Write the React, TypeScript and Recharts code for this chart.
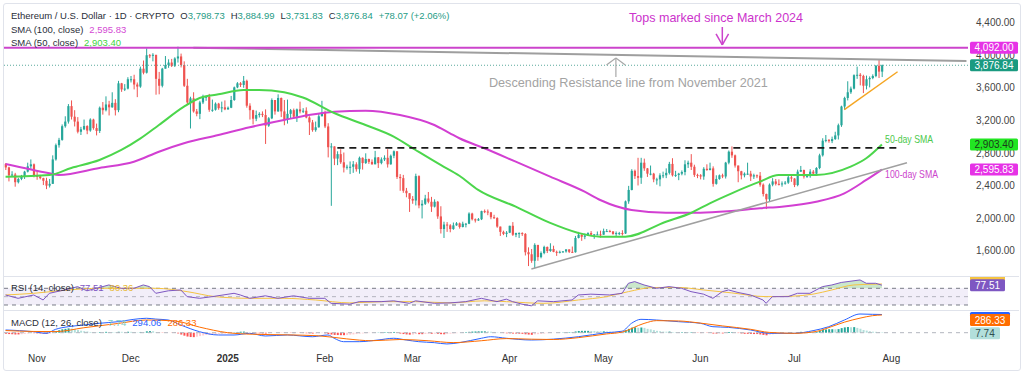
import React from "react";
import {
  ComposedChart,
  Bar,
  Line,
  Area,
  XAxis,
  YAxis,
  ReferenceLine,
  ReferenceDot,
  ReferenceArea,
  Cell,
} from "recharts";

const FONT = "'Liberation Sans', Arial, Helvetica, sans-serif";

// ---------- DATA (day index 0 = 22 Oct 2024, last candle = 29 Jul 2025 = index 280) ----------
const FIRST_OPEN = 2665;
// [close, high, low] per day; open = previous close
const OCT24 = [
  [2622, 2675, 2590], [2525, 2630, 2450], [2535, 2575, 2505], [2440, 2555, 2385], [2480, 2495, 2425],
  [2505, 2530, 2465], [2570, 2580, 2480], [2635, 2680, 2560], [2660, 2720, 2605], [2518, 2670, 2500],
];
const NOV24 = [
  [2512, 2585, 2470], [2490, 2530, 2475], [2458, 2495, 2405], [2398, 2495, 2355], [2420, 2480, 2375],
  [2720, 2770, 2420], [2895, 2915, 2705], [2960, 2985, 2865], [3128, 3150, 2950], [3185, 3250, 3110],
  [3375, 3400, 3160], [3245, 3445, 3210], [3185, 3325, 3125], [3060, 3240, 3040], [3090, 3120, 3020],
  [3130, 3210, 3080], [3075, 3140, 3030], [3210, 3225, 3060], [3105, 3220, 3085], [3070, 3160, 3015],
  [3355, 3370, 3045], [3325, 3425, 3270], [3395, 3495, 3310], [3360, 3440, 3260], [3415, 3545, 3355],
  [3325, 3460, 3260], [3655, 3685, 3300], [3580, 3660, 3550], [3590, 3645, 3560], [3705, 3730, 3580],
];
const DEC24 = [
  [3705, 3745, 3665], [3640, 3760, 3580], [3615, 3665, 3485], [3835, 3860, 3600], [3785, 3935, 3765],
  [4000, 4085, 3775], [3995, 4015, 3965], [4005, 4025, 3925], [3710, 4005, 3515], [3625, 3795, 3520],
  [3835, 3845, 3605], [3880, 3990, 3860], [3910, 3950, 3845], [3870, 3955, 3855], [3960, 3975, 3855],
  [3985, 4105, 3910], [3880, 4020, 3850], [3625, 3925, 3610], [3420, 3710, 3390], [3470, 3490, 3100],
  [3310, 3545, 3295], [3280, 3340, 3250], [3420, 3440, 3215], [3490, 3515, 3400], [3490, 3500, 3440],
  [3330, 3525, 3305], [3330, 3455, 3305], [3405, 3420, 3320], [3350, 3415, 3330], [3360, 3430, 3300],
  [3335, 3445, 3325],
];
const JAN25 = [
  [3355, 3370, 3330], [3450, 3500, 3350], [3605, 3615, 3440], [3655, 3670, 3595], [3635, 3670, 3610],
  [3685, 3745, 3600], [3380, 3700, 3355], [3325, 3410, 3210], [3220, 3330, 3150], [3265, 3320, 3190],
  [3280, 3300, 3235], [3265, 3310, 3240], [3135, 3335, 2910], [3225, 3240, 3120], [3450, 3470, 3215],
  [3310, 3445, 3270], [3475, 3520, 3305], [3310, 3480, 3240], [3215, 3450, 3140], [3280, 3455, 3160],
  [3325, 3340, 3225], [3245, 3345, 3230], [3335, 3345, 3180], [3310, 3430, 3285], [3318, 3350, 3290],
  [3235, 3360, 3225], [3175, 3250, 3020], [3080, 3205, 3060], [3115, 3185, 3060], [3250, 3290, 3110],
  [3300, 3440, 3270],
];
const FEB25 = [
  [3125, 3320, 3105], [2870, 3165, 2745], [2880, 2920, 2150], [2730, 2865, 2650], [2785, 2820, 2650],
  [2685, 2845, 2665], [2620, 2805, 2560], [2630, 2655, 2595], [2630, 2695, 2540], [2660, 2700, 2555],
  [2600, 2685, 2570], [2740, 2755, 2545], [2675, 2745, 2595], [2725, 2795, 2665], [2690, 2730, 2665],
  [2660, 2720, 2655], [2745, 2825, 2670], [2675, 2750, 2615], [2720, 2745, 2660], [2740, 2770, 2700],
  [2660, 2845, 2620], [2765, 2780, 2655], [2820, 2830, 2735], [2505, 2820, 2480], [2490, 2540, 2335],
  [2335, 2530, 2310], [2305, 2370, 2255], [2235, 2305, 2075],
];
const MAR25 = [
  [2215, 2270, 2175], [2515, 2545, 2155], [2155, 2525, 2120], [2175, 2220, 1995], [2240, 2285, 2160],
  [2200, 2320, 2180], [2140, 2260, 2075], [2200, 2230, 2130], [2020, 2210, 1990], [1865, 2145, 1810],
  [1920, 1955, 1755], [1910, 1950, 1830], [1865, 1925, 1825], [1910, 1945, 1855], [1935, 1950, 1905],
  [1890, 1945, 1870], [1930, 1955, 1885], [1930, 1940, 1885], [2055, 2070, 1925], [1985, 2065, 1970],
  [1970, 1995, 1945], [1985, 2000, 1965], [2085, 2090, 1975], [2080, 2105, 2060], [2070, 2105, 2035],
  [2010, 2075, 1985], [2000, 2040, 1990], [1895, 2010, 1880], [1830, 1895, 1780], [1805, 1845, 1790],
  [1820, 1840, 1765],
];
const APR25 = [
  [1905, 1905, 1815], [1795, 1950, 1780], [1815, 1820, 1765], [1815, 1825, 1755], [1805, 1825, 1780],
  [1580, 1815, 1540], [1555, 1640, 1410], [1475, 1620, 1450], [1670, 1690, 1385], [1520, 1670, 1475],
  [1570, 1590, 1505], [1645, 1660, 1555], [1595, 1650, 1570], [1620, 1690, 1585], [1585, 1660, 1580],
  [1575, 1600, 1535], [1585, 1600, 1565], [1590, 1595, 1575], [1615, 1615, 1575], [1585, 1615, 1570],
  [1580, 1650, 1570], [1755, 1780, 1575], [1795, 1830, 1750], [1770, 1800, 1720], [1785, 1810, 1740],
  [1815, 1825, 1780], [1795, 1840, 1785], [1800, 1800, 1745], [1800, 1835, 1790], [1795, 1845, 1760],
];
const MAY25 = [
  [1840, 1870, 1795], [1840, 1865, 1830], [1835, 1855, 1825], [1805, 1840, 1795], [1815, 1835, 1780],
  [1815, 1830, 1790], [1810, 1850, 1785], [2205, 2215, 1805], [2345, 2395, 2175], [2580, 2600, 2340],
  [2515, 2595, 2480], [2495, 2740, 2400], [2680, 2740, 2420], [2610, 2730, 2580], [2545, 2615, 2505],
  [2545, 2645, 2525], [2475, 2555, 2440], [2475, 2495, 2410], [2525, 2550, 2390], [2525, 2570, 2490],
  [2555, 2610, 2490], [2665, 2690, 2535], [2525, 2735, 2510], [2530, 2580, 2505], [2545, 2555, 2465],
  [2565, 2585, 2525], [2660, 2710, 2525], [2680, 2705, 2615], [2630, 2785, 2590], [2530, 2655, 2505],
  [2525, 2545, 2490],
];
const JUN25 = [
  [2510, 2540, 2475], [2605, 2625, 2470], [2590, 2660, 2580], [2610, 2680, 2585], [2420, 2635, 2385],
  [2480, 2525, 2410], [2525, 2535, 2470], [2510, 2545, 2490], [2680, 2690, 2485], [2815, 2830, 2660],
  [2770, 2880, 2740], [2645, 2780, 2620], [2575, 2645, 2440], [2525, 2580, 2475], [2545, 2560, 2500],
  [2545, 2680, 2530], [2510, 2580, 2455], [2525, 2545, 2480], [2520, 2535, 2490], [2410, 2565, 2385],
  [2295, 2425, 2265], [2230, 2300, 2110], [2410, 2425, 2200], [2450, 2490, 2390], [2420, 2480, 2400],
  [2415, 2475, 2400], [2425, 2450, 2385], [2435, 2455, 2410], [2500, 2520, 2420], [2485, 2525, 2445],
];
const JUL25 = [
  [2405, 2490, 2380], [2570, 2595, 2390], [2590, 2640, 2565], [2510, 2595, 2485], [2515, 2530, 2495],
  [2570, 2600, 2495], [2545, 2590, 2520], [2615, 2625, 2530], [2770, 2790, 2600], [2950, 2980, 2755],
  [2960, 3020, 2930], [2945, 2970, 2925], [2970, 3000, 2920], [3015, 3060, 2960], [3140, 3160, 2965],
  [3370, 3380, 3120], [3475, 3490, 3330], [3545, 3680, 3445], [3590, 3615, 3525], [3755, 3765, 3580],
  [3760, 3860, 3710], [3745, 3780, 3630], [3625, 3760, 3535], [3705, 3750, 3580], [3720, 3740, 3605],
  [3745, 3765, 3705], [3870, 3880, 3730], [3798.73, 3940, 3720], [3876.84, 3884.99, 3731.83],
];

// MACD histogram, one value per candle
const H_OCT = [-18, -22, -25, -28, -28, -25, -20, -12, -5, -8];
const H_NOV = [-10, -12, -15, -18, -16, 5, 25, 40, 55, 62, 70, 68, 58, 45, 32, 25, 20, 12, 8, 6, 10, 8, 14, 12, 10, 8, 15, 14, 12, 16];
const H_DEC = [14, 10, 5, 12, 10, 22, 26, 24, 8, -2, -4, -2, -1, -3, -5, -12, -30, -48, -62, -70, -72, -65, -55, -45, -38, -34, -30, -25, -22, -18, -15];
const H_JAN = [-12, -6, 5, 12, 16, 18, 10, 2, -4, -8, -10, -12, -14, -8, -4, -3, 2, -2, -5, -4, -4, -6, -4, -5, -6, -9, -12, -14, -12, -8, -6];
const H_FEB = [-10, -22, -30, -36, -38, -40, -40, -38, -32, -28, -22, -15, -12, -8, -6, -4, 2, 4, 6, 8, 8, 10, 12, -4, -14, -22, -28, -32];
const H_MAR = [-30, -20, -24, -24, -20, -18, -18, -16, -18, -24, -26, -22, -16, -12, -8, -2, 4, 8, 14, 18, 20, 22, 22, 22, 20, 16, 12, 6, 0, -6, -10];
const H_APR = [-10, -14, -14, -16, -18, -26, -30, -34, -26, -24, -20, -14, -8, -4, -2, 0, 2, 4, 6, 8, 8, 20, 28, 30, 30, 30, 28, 26, 24, 22];
const H_MAY = [22, 20, 18, 14, 12, 10, 8, 40, 62, 82, 86, 80, 84, 78, 62, 54, 42, 30, 24, 18, 16, 18, 10, 8, 6, 8, 10, 8, 8, 2, -4];
const H_JUN = [-6, -4, -4, -4, -14, -14, -12, -12, 0, 10, 10, 4, -6, -12, -18, -18, -20, -22, -22, -28, -36, -42, -32, -26, -18, -12, -8, -4, 2, 4];
const H_JUL = [2, 10, 14, 12, 10, 10, 8, 12, 28, 44, 52, 56, 56, 54, 58, 74, 86, 92, 88, 90, 78, 64, 44, 34, 24, 16, 14, 10, 7.74];

// Indicator readings [day index, value]
const SMA50_PTS = [
  [0, 2508], [14, 2529], [21, 2615], [30, 2713], [37, 2836], [43, 2975], [49, 3143], [57, 3368], [62, 3475],
  [68, 3520], [76, 3573], [81, 3573], [89, 3545], [95, 3480], [105, 3290], [115, 3143], [124, 3000],
  [131, 2836], [139, 2652], [145, 2520], [151, 2345], [163, 2140], [174, 1940], [183, 1817], [190, 1771],
  [198, 1771], [211, 1955], [219, 2062], [225, 2181], [232, 2304], [241, 2447], [247, 2529], [259, 2529],
  [270, 2631], [275, 2734], [280, 2903.4],
];
const SMA100_PTS = [
  [0, 2664], [14, 2550], [17, 2529], [30, 2615], [41, 2692], [49, 2815], [57, 2918], [68, 3020], [78, 3115],
  [89, 3205], [97, 3266], [105, 3307], [115, 3319], [126, 3266], [137, 3143], [142, 3041], [145, 2980],
  [153, 2857], [163, 2692], [174, 2508], [185, 2324], [190, 2222], [200, 2099], [211, 2066], [222, 2066],
  [232, 2087], [241, 2120], [248, 2140], [259, 2201], [268, 2304], [275, 2468], [280, 2595.83],
];
const RSI_PTS = [
  [0, 54], [4, 46], [9, 54], [12, 42], [14, 58], [20, 68], [23, 74], [26, 64], [29, 70], [33, 78], [37, 70],
  [41, 70], [44, 78], [46, 74], [48, 58], [52, 64], [56, 66], [58, 50], [62, 46], [66, 50], [73, 58], [75, 54],
  [78, 46], [83, 52], [87, 46], [92, 52], [97, 46], [102, 46], [104, 34], [110, 32], [113, 38], [120, 38],
  [124, 40], [129, 34], [131, 40], [137, 34], [142, 35], [147, 38], [152, 46], [157, 38], [160, 44], [162, 38],
  [165, 32], [168, 28], [170, 40], [175, 38], [181, 42], [183, 54], [187, 56], [193, 54], [197, 58], [199, 82],
  [201, 86], [204, 78], [208, 70], [212, 74], [216, 70], [219, 62], [223, 56], [226, 46], [229, 62], [231, 66],
  [234, 60], [238, 54], [242, 42], [243, 34], [245, 50], [250, 50], [253, 58], [257, 58], [261, 74], [264, 78],
  [267, 84], [273, 90], [275, 82], [278, 82], [280, 77.51],
];
const RSI_MA_PTS = [
  [0, 54], [9, 58], [20, 66], [30, 70], [39, 70], [48, 70], [58, 62], [67, 50], [78, 46], [89, 46], [99, 42],
  [110, 35], [121, 38], [131, 38], [142, 35], [153, 40], [160, 38], [172, 34], [183, 42], [192, 50], [199, 62],
  [207, 72], [215, 72], [223, 66], [232, 59], [243, 50], [251, 51], [258, 56], [264, 66], [271, 78], [280, 80.36],
];
const MACD_PTS = [
  [0, 44], [9, 16], [13, -10], [16, 55], [20, 97], [25, 124], [30, 152], [36, 178], [41, 216], [45, 233],
  [48, 220], [52, 205], [56, 124], [62, 16], [68, -37], [73, -37], [78, -10], [83, -53], [90, -37], [98, -65],
  [103, -37], [105, -90], [108, -145], [113, -145], [119, -118], [124, -90], [128, -118], [132, -145],
  [137, -161], [141, -182], [145, -161], [152, -90], [155, -65], [160, -90], [168, -118], [175, -104],
  [183, -65], [192, 0], [197, 24], [200, 152], [203, 216], [208, 205], [215, 178], [222, 152], [226, 97],
  [231, 86], [238, 44], [244, -10], [252, -10], [258, 33], [263, 97], [268, 205], [273, 302], [277, 297],
  [280, 294.06],
];
const SIGNAL_PTS = [
  [0, 35], [9, 20], [16, 18], [25, 80], [36, 150], [45, 205], [54, 190], [62, 90], [71, 0], [79, -25],
  [90, -35], [100, -50], [109, -100], [117, -130], [126, -110], [135, -130], [143, -160], [152, -130],
  [160, -95], [168, -105], [175, -110], [183, -80], [192, -20], [197, 10], [204, 150], [208, 195], [215, 190],
  [222, 155], [229, 110], [238, 55], [244, 5], [252, -10], [259, 20], [264, 100], [268, 170], [273, 235],
  [277, 275], [280, 286.33],
];

const TICK_DAYS = [10, 40, 71, 102, 130, 161, 191, 222, 252, 283];
const TICK_LABELS = ["Nov", "Dec", "2025", "Feb", "Mar", "Apr", "May", "Jun", "Jul", "Aug"];
const PRICE_TICKS = [1600, 2000, 2400, 2800, 3200, 3600, 4000, 4400];
const TOPS_LEVEL = 4092;
const LAST_CLOSE = 3876.84;
const CHANGE_TEXT = "+78.07 (+2.06%)";
const RSI_VALUE = 77.51;
const RSI_MA_VALUE = 80.36;
const MACD_VALUE = 294.06;
const SIGNAL_VALUE = 286.33;
const HIST_VALUE = 7.74;

// trend lines [day index, price]
const DESC_RES = [[60, 4092], [307, 3930]];
const NECKLINE = [[106, 2862], [285, 2862]];
const SUPPORT = [[168, 1374], [288, 2680]];
const SHORT_SUPPORT = [[268, 3333], [285, 3797]];

const N_DAYS = 308;

// ---------- build rows ----------
const CANDLES = [...OCT24, ...NOV24, ...DEC24, ...JAN25, ...FEB25, ...MAR25, ...APR25, ...MAY25, ...JUN25, ...JUL25];
const HIST = [...H_OCT, ...H_NOV, ...H_DEC, ...H_JAN, ...H_FEB, ...H_MAR, ...H_APR, ...H_MAY, ...H_JUN, ...H_JUL];
const toMap = (pts: number[][]) => new Map(pts.map(([t, v]) => [t, v]));
const m50 = toMap(SMA50_PTS);
const m100 = toMap(SMA100_PTS);
const mRsi = toMap(RSI_PTS);
const mRsiMa = toMap(RSI_MA_PTS);
const mMacd = toMap(MACD_PTS);
const mSig = toMap(SIGNAL_PTS);

const rows = Array.from({ length: N_DAYS }, (_, t) => {
  const row: any = { t };
  if (t < CANDLES.length) {
    const [c, h, l] = CANDLES[t];
    const o = t === 0 ? FIRST_OPEN : CANDLES[t - 1][0];
    row.open = o;
    row.close = c;
    row.high = Math.max(h, o, c);
    row.low = Math.min(l, o, c);
    row.range = [row.low, row.high];
    row.hist = HIST[t];
  }
  row.sma50 = m50.has(t) ? m50.get(t) : null;
  row.sma100 = m100.has(t) ? m100.get(t) : null;
  row.rsi = mRsi.has(t) ? mRsi.get(t) : null;
  row.rsiMa = mRsiMa.has(t) ? mRsiMa.get(t) : null;
  row.macd = mMacd.has(t) ? mMacd.get(t) : null;
  row.signal = mSig.has(t) ? mSig.get(t) : null;
  return row;
});

const last = rows[CANDLES.length - 1];

// ---------- styling ----------
const UP = "#26a69a";
const DOWN = "#ef5350";
const MAGENTA = "#cc44cc";
const MAGENTA_BOX = "#e632e6";
const SMA50_C = "#4cd64c";
const SMA100_C = "#d23fd2";
const TEAL_TXT = "#1f9c86";

const fmt2 = (v: number) => v.toLocaleString("en-US", { minimumFractionDigits: 2, maximumFractionDigits: 2 });

const Candle = (p: any) => {
  const { x, y, width, height, payload } = p;
  if (!payload || payload.high == null) return null;
  const { open, close, high, low } = payload;
  const top = Math.min(y, y + height);
  const h = Math.abs(height);
  const span = high - low || 1;
  const py = (v: number) => top + ((high - v) / span) * h;
  const cx = x + width / 2;
  const color = close >= open ? UP : DOWN;
  const b1 = py(Math.max(open, close));
  const b2 = py(Math.min(open, close));
  const bw = 2.2;
  return (
    <g>
      <line x1={cx} x2={cx} y1={top} y2={top + h} stroke={color} strokeWidth={1} />
      <rect x={cx - bw / 2} y={b1} width={bw} height={Math.max(1, b2 - b1)} fill={color} />
    </g>
  );
};

type BoxSpec = { text: string | null; bg: string; fg: string; w: number; dy?: number };

const makeAxisTick = (boxes: Map<number, BoxSpec>) => (p: any) => {
  const v = p.payload.value;
  const box = boxes.get(v);
  if (box) {
    const bx = p.x - 6;
    const cy = p.y + (box.dy || 0);
    return (
      <g>
        <rect x={bx} y={cy - 6} width={box.w} height={12} rx={1.5} fill={box.bg} />
        {box.text ? (
          <text x={bx + box.w / 2} y={cy} dy={3.6} textAnchor="middle" fontSize={10} fill={box.fg} fontFamily={FONT}>
            {box.text}
          </text>
        ) : null}
      </g>
    );
  }
  return (
    <text x={p.x} y={p.y} dy={3.6} textAnchor="start" fontSize={10} fill="#444" fontFamily={FONT}>
      {fmt2(v)}
    </text>
  );
};

const MAIN_BOXES = new Map<number, BoxSpec>([
  [TOPS_LEVEL, { text: fmt2(TOPS_LEVEL), bg: MAGENTA_BOX, fg: "#fff", w: 48 }],
  [LAST_CLOSE, { text: fmt2(LAST_CLOSE), bg: "#1a9a80", fg: "#fff", w: 48 }],
  [2903.4, { text: fmt2(2903.4), bg: "#22e622", fg: "#1b3b1b", w: 48 }],
  [2595.83, { text: fmt2(2595.83), bg: MAGENTA_BOX, fg: "#fff", w: 48 }],
]);
// labels hidden behind the front label (only their coloured edge shows)
const RSI_BOXES = new Map<number, BoxSpec>([
  [RSI_MA_VALUE, { text: null, bg: "#f5c342", fg: "#fff", w: 35, dy: -2 }],
  [RSI_VALUE, { text: fmt2(RSI_VALUE), bg: "#7e57c2", fg: "#fff", w: 35 }],
]);
const MACD_BOXES = new Map<number, BoxSpec>([
  [MACD_VALUE, { text: null, bg: "#2962ff", fg: "#fff", w: 40, dy: 3.5 }],
  [SIGNAL_VALUE, { text: fmt2(SIGNAL_VALUE), bg: "#ff6d00", fg: "#fff", w: 40, dy: 5 }],
  [HIST_VALUE, { text: fmt2(HIST_VALUE), bg: "#b2dfdb", fg: "#2f4f4f", w: 30, dy: 1 }],
]);

const MainTick = makeAxisTick(MAIN_BOXES);
const RsiTick = makeAxisTick(RSI_BOXES);
const MacdTick = makeAxisTick(MACD_BOXES);

const TimeTick = (p: any) => {
  const idx = TICK_DAYS.indexOf(p.payload.value);
  if (idx < 0) return null;
  const label = TICK_LABELS[idx];
  return (
    <text x={p.x} y={p.y} dy={4} textAnchor="middle" fontSize={10} fontWeight={label === "2025" ? 700 : 400} fill="#333" fontFamily={FONT}>
      {label}
    </text>
  );
};

const histColor = (t: number) => {
  const v = HIST[t];
  const prev = t > 0 ? HIST[t - 1] : v;
  if (v >= 0) return v >= prev ? "#26a69a" : "#b2dfdb";
  return v <= prev ? "#ff5252" : "#ffcdd2";
};

const seg = (pts: number[][]) => [
  { x: pts[0][0], y: pts[0][1] },
  { x: pts[1][0], y: pts[1][1] },
];

const textShape = (txt: string, color: string, size: number, len: number, anchor: string) => (p: any) => (
  <text
    x={p.cx}
    y={p.cy}
    textAnchor={anchor}
    dominantBaseline="central"
    fontSize={size}
    fill={color}
    fontFamily={FONT}
    textLength={len}
    lengthAdjust="spacingAndGlyphs"
  >
    {txt}
  </text>
);

const MARGIN = { top: 0, right: 4, bottom: 0, left: 4 };
const AXIS_W = 52;

const legendBase: React.CSSProperties = {
  position: "absolute",
  left: 11,
  fontFamily: FONT,
  fontSize: 9.5,
  lineHeight: "12px",
  color: "#2a2e39",
  whiteSpace: "nowrap",
};

export default function App() {
  return (
    <div style={{ position: "fixed", left: 0, top: 0, width: 1024, height: 377, background: "#fff", overflow: "hidden" }}>
      {/* frame */}
      <div style={{ position: "absolute", left: 3, top: 3, width: 1016, height: 366, border: "1px solid #e0e3eb", borderRadius: 3 }} />
      <div style={{ position: "absolute", left: 4, top: 276, width: 1015, height: 1, background: "#e0e3eb" }} />
      <div style={{ position: "absolute", left: 4, top: 310, width: 1015, height: 1, background: "#e0e3eb" }} />

      {/* main price pane */}
      <div style={{ position: "absolute", left: 0, top: 5 }}>
        <ComposedChart width={1024} height={271} data={rows} margin={MARGIN}>
          <XAxis dataKey="t" type="category" scale="band" hide />
          <YAxis
            orientation="right"
            type="number"
            width={AXIS_W}
            domain={[1288, 4617]}
            allowDataOverflow
            ticks={[...PRICE_TICKS, TOPS_LEVEL, LAST_CLOSE, 2903.4, 2595.83]}
            interval={0}
            tick={<MainTick />}
            axisLine={false}
            tickLine={false}
          />
          <ReferenceLine y={LAST_CLOSE} stroke="#5aa99c" strokeDasharray="1 2" strokeWidth={1} />
          <ReferenceLine segment={seg(DESC_RES)} stroke="#9e9e9e" strokeWidth={2} />
          <ReferenceLine y={TOPS_LEVEL} stroke={MAGENTA} strokeWidth={2} />
          <Line dataKey="sma100" type="monotone" stroke={SMA100_C} strokeWidth={2} dot={false} activeDot={false} connectNulls isAnimationActive={false} />
          <Line dataKey="sma50" type="monotone" stroke={SMA50_C} strokeWidth={2} dot={false} activeDot={false} connectNulls isAnimationActive={false} />
          <Bar dataKey="range" shape={<Candle />} isAnimationActive={false} />
          <ReferenceLine segment={seg(NECKLINE)} stroke="#1a1a1a" strokeWidth={1.6} strokeDasharray="7 5" />
          <ReferenceLine segment={seg(SUPPORT)} stroke="#a0a0a0" strokeWidth={1.5} />
          <ReferenceLine segment={seg(SHORT_SUPPORT)} stroke="#f5a623" strokeWidth={1.5} />
          {/* magenta arrow */}
          <ReferenceLine segment={[{ x: 229, y: 4347 }, { x: 229, y: 4126 }]} stroke={MAGENTA} strokeWidth={1.5} />
          <ReferenceLine segment={[{ x: 227, y: 4261 }, { x: 229, y: 4126 }]} stroke={MAGENTA} strokeWidth={1.5} />
          <ReferenceLine segment={[{ x: 231, y: 4261 }, { x: 229, y: 4126 }]} stroke={MAGENTA} strokeWidth={1.5} />
          {/* gray arrow */}
          <ReferenceLine segment={[{ x: 195, y: 3733 }, { x: 195, y: 3966 }]} stroke="#a8a8a8" strokeWidth={1.2} />
          <ReferenceLine segment={[{ x: 192, y: 3880 }, { x: 195, y: 3966 }]} stroke="#a8a8a8" strokeWidth={1.2} />
          <ReferenceLine segment={[{ x: 198, y: 3880 }, { x: 195, y: 3966 }]} stroke="#a8a8a8" strokeWidth={1.2} />
          <ReferenceDot x={227} y={4458} r={1} shape={textShape("Tops marked since March 2024", "#cc33cc", 13, 174, "middle")} />
          <ReferenceDot x={199} y={3659} r={1} shape={textShape("Descending Resistance line from November 2021", "#a3a3a3", 13.5, 279, "middle")} />
          <ReferenceDot x={281} y={2971} r={1} shape={textShape("50-day SMA", "#4cc94c", 10.5, 48, "start")} />
          <ReferenceDot x={281} y={2541} r={1} shape={textShape("100-day SMA", "#cc44cc", 10.5, 53, "start")} />
        </ComposedChart>
      </div>

      {/* RSI pane */}
      <div style={{ position: "absolute", left: 0, top: 277 }}>
        <ComposedChart width={1024} height={33} data={rows} margin={MARGIN}>
          <XAxis dataKey="t" type="category" scale="band" hide />
          <YAxis
            orientation="right"
            type="number"
            width={AXIS_W}
            domain={[18, 97.07]}
            allowDataOverflow
            ticks={[RSI_MA_VALUE, RSI_VALUE]}
            interval={0}
            tick={<RsiTick />}
            axisLine={false}
            tickLine={false}
          />
          <ReferenceArea y1={30} y2={70} fill="#7e57c2" fillOpacity={0.1} stroke="none" />
          <ReferenceLine y={70} stroke="#787b86" strokeDasharray="4 4" strokeWidth={1} />
          <ReferenceLine y={50} stroke="#787b86" strokeOpacity={0.5} strokeDasharray="4 4" strokeWidth={1} />
          <ReferenceLine y={30} stroke="#787b86" strokeDasharray="4 4" strokeWidth={1} />
          <Area
            dataKey={(d: any) => (d.rsi == null ? null : Math.max(d.rsi, 70))}
            baseValue={70}
            type="linear"
            stroke="none"
            fill="#66bb6a"
            fillOpacity={0.35}
            connectNulls
            isAnimationActive={false}
          />
          <Line dataKey="rsiMa" type="monotone" stroke="#f5c342" strokeWidth={1} dot={false} activeDot={false} connectNulls isAnimationActive={false} />
          <Line dataKey="rsi" type="linear" stroke="#7e57c2" strokeWidth={1} dot={false} activeDot={false} connectNulls isAnimationActive={false} />
        </ComposedChart>
      </div>

      {/* MACD pane + time axis */}
      <div style={{ position: "absolute", left: 0, top: 311 }}>
        <ComposedChart width={1024} height={59} data={rows} margin={MARGIN}>
          <XAxis dataKey="t" type="category" scale="band" height={20} interval={0} axisLine={false} tickLine={false} tick={<TimeTick />} />
          <YAxis
            orientation="right"
            type="number"
            width={AXIS_W}
            domain={[-279.5, 350.6]}
            allowDataOverflow
            ticks={[MACD_VALUE, SIGNAL_VALUE, HIST_VALUE]}
            interval={0}
            tick={<MacdTick />}
            axisLine={false}
            tickLine={false}
          />
          <ReferenceLine y={0} stroke="#b2b5be" strokeDasharray="4 4" strokeWidth={1} />
          <Bar dataKey="hist" barSize={2} isAnimationActive={false}>
            {rows.map((r) => (
              <Cell key={r.t} fill={r.hist == null ? "none" : histColor(r.t)} />
            ))}
          </Bar>
          <Line dataKey="macd" type="monotone" stroke="#2962ff" strokeWidth={1} dot={false} activeDot={false} connectNulls isAnimationActive={false} />
          <Line dataKey="signal" type="monotone" stroke="#ff6d00" strokeWidth={1} dot={false} activeDot={false} connectNulls isAnimationActive={false} />
        </ComposedChart>
      </div>

      {/* legends */}
      <div style={{ ...legendBase, top: 10 }}>
        <span>Ethereum / U.S. Dollar · 1D · CRYPTO</span>
        <span style={{ marginLeft: 6 }}>O</span>
        <span style={{ color: TEAL_TXT }}>{fmt2(last.open)}</span>
        <span style={{ marginLeft: 6 }}>H</span>
        <span style={{ color: TEAL_TXT }}>{fmt2(last.high)}</span>
        <span style={{ marginLeft: 6 }}>L</span>
        <span style={{ color: TEAL_TXT }}>{fmt2(last.low)}</span>
        <span style={{ marginLeft: 6 }}>C</span>
        <span style={{ color: TEAL_TXT }}>{fmt2(last.close)}</span>
        <span style={{ marginLeft: 6, color: TEAL_TXT }}>{CHANGE_TEXT}</span>
      </div>
      <div style={{ ...legendBase, top: 24 }}>
        <span>SMA (100, close)</span>
        <span style={{ marginLeft: 6, color: "#d44ad4" }}>{fmt2(2595.83)}</span>
      </div>
      <div style={{ ...legendBase, top: 37 }}>
        <span>SMA (50, close)</span>
        <span style={{ marginLeft: 6, color: "#3fd43f" }}>{fmt2(2903.4)}</span>
      </div>
      <div style={{ ...legendBase, top: 282 }}>
        <span>RSI (14, close)</span>
        <span style={{ marginLeft: 6, color: "#7e57c2" }}>{fmt2(RSI_VALUE)}</span>
        <span style={{ marginLeft: 6, color: "#e8b931" }}>{fmt2(RSI_MA_VALUE)}</span>
      </div>
      <div style={{ ...legendBase, top: 317 }}>
        <span>MACD (12, 26, close)</span>
        <span style={{ marginLeft: 6, color: "#80cbc4" }}>{fmt2(HIST_VALUE)}</span>
        <span style={{ marginLeft: 6, color: "#2962ff" }}>{fmt2(MACD_VALUE)}</span>
        <span style={{ marginLeft: 6, color: "#ff6d00" }}>{fmt2(SIGNAL_VALUE)}</span>
      </div>
    </div>
  );
}
